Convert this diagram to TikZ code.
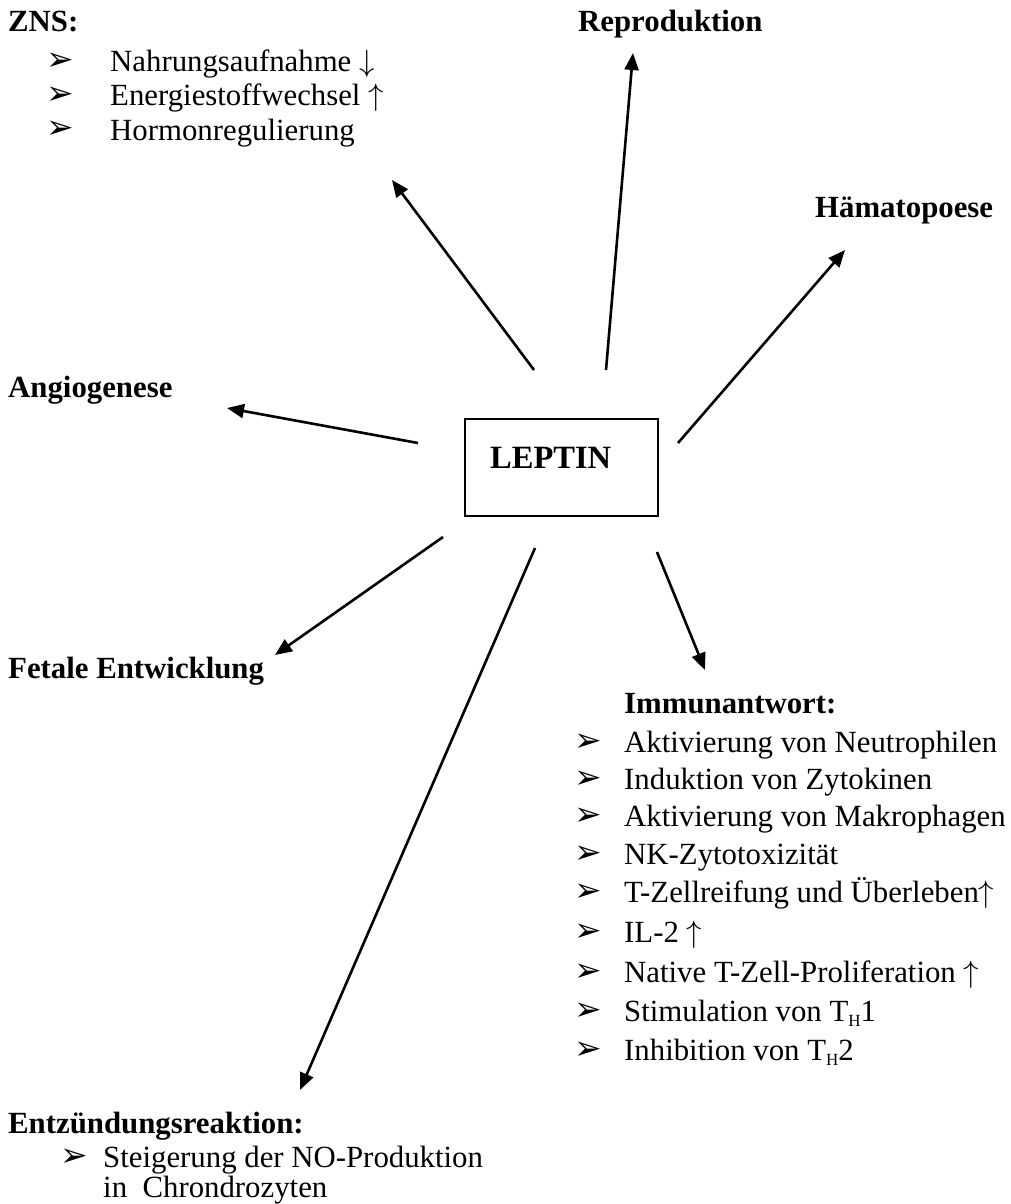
\RequirePackage{fix-cm}
\documentclass[tikz,border=0pt]{standalone}
\usepackage{fontspec}
\setmainfont{Liberation Serif}
\newfontfamily\dejavu{DejaVu Sans}
\usetikzlibrary{arrows.meta}
\newcommand{\up}{$\uparrow$}
\newcommand{\dn}{$\downarrow$}
\newcommand{\sub}[1]{\raisebox{-5pt}{\fontsize{17}{17}\selectfont #1}}
\begin{document}
\begin{tikzpicture}[x=1pt,y=-1pt,
  txt/.style={anchor=base west,inner sep=0pt,font=\fontsize{30.8}{34}\selectfont},
  head/.style={anchor=base west,inner sep=0pt,font=\fontsize{30.8}{34}\selectfont\bfseries},
  bul/.style={anchor=base west,inner sep=0pt,font=\dejavu\bfseries\fontsize{33}{34}\selectfont},
  arr/.style={line width=2.6pt,-{Triangle[length=17pt,width=14pt]}},
  box/.style={draw,line width=1.5pt,inner sep=0pt}
]
\fill[white] (0,0) rectangle (1011,1204);
\useasboundingbox (0,0) rectangle (1011,1204);

% ZNS
\node[head] (zns) at (8,32) {ZNS:};
\node[bul] (zb1) at (46,71) {➢};
\node[txt] (z1) at (110,72) {Nahrungsaufnahme \dn};
\node[bul] (zb2) at (46,105) {➢};
\node[txt] (z2) at (110,106) {Energiestoffwechsel \up};
\node[bul] (zb3) at (46,139) {➢};
\node[txt] (z3) at (110,140) {Hormonregulierung};

\node[head] (repro) at (578,32) {Reproduktion};
\node[head] (haem) at (815,217) {Hämatopoese};
\node[head] (angio) at (8,397) {Angiogenese};
\node[head] (fetal) at (8,678) {Fetale Entwicklung};

% center box
\node[box,minimum width=193pt,minimum height=97pt] (box) at (561.5,467.5) {};
\node[head,font=\fontsize{32.5}{34}\selectfont\bfseries] (leptin) at (490,468) {LEPTIN};

% Immunantwort
\node[head] (immun) at (624,713) {Immunantwort:};
\foreach \y/\t [count=\i] in {
  752/{Aktivierung von Neutrophilen},
  789/{Induktion von Zytokinen},
  826/{Aktivierung von Makrophagen},
  864/{NK-Zytotoxizität},
  902/{T-Zellreifung und Überleben\up},
  942/{IL-2 \up},
  982/{Native T-Zell-Proliferation \up},
  1021/{Stimulation von T\sub{H}1},
  1060/{Inhibition von T\sub{H}2}}{
  \node[bul] (ib\i) at (574,\y-1) {➢};
  \node[txt] (i\i) at (624,\y) {\t};
}

% Entzuendungsreaktion
\node[head] (entz) at (8,1133) {Entzündungsreaktion:};
\node[bul] (eb1) at (60,1166) {➢};
\node[txt] (e1) at (103,1167) {Steigerung der NO-Produktion};
\node[txt] (e2) at (103,1197) {in\ \ Chrondrozyten};

% arrow coordinates
\coordinate (s1) at (534,370); \coordinate (t1) at (392,180);
\coordinate (s2) at (606,370); \coordinate (t2) at (633,53);
\coordinate (s3) at (678,443); \coordinate (t3) at (845,250);
\coordinate (s4) at (418,443); \coordinate (t4) at (227,408);
\coordinate (s5) at (443,537); \coordinate (t5) at (275,655);
\coordinate (s6) at (535,548); \coordinate (t6) at (300,1090);
\coordinate (s7) at (657,552); \coordinate (t7) at (705,670);

\draw[arr] (s1) -- (t1);
\draw[arr] (s2) -- (t2);
\draw[arr] (s3) -- (t3);
\draw[arr] (s4) -- (t4);
\draw[arr] (s5) -- (t5);
\draw[arr] (s6) -- (t6);
\draw[arr] (s7) -- (t7);
\end{tikzpicture}
\end{document}
